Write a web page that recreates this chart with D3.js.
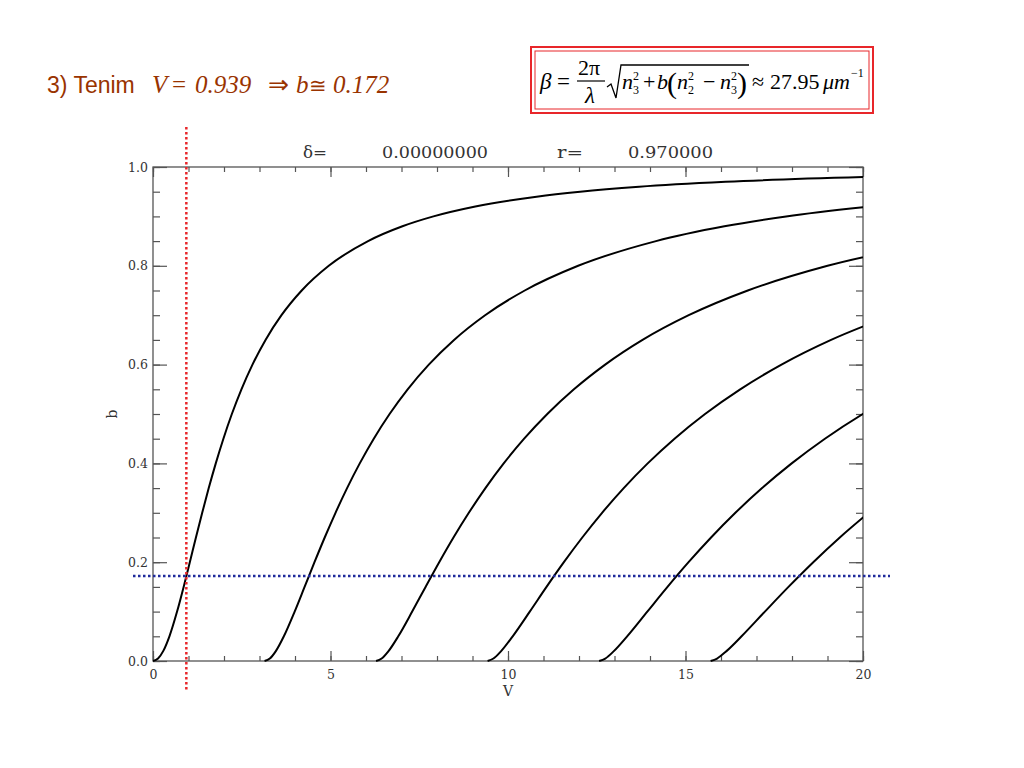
<!DOCTYPE html>
<html>
<head>
<meta charset="utf-8">
<script src="https://cdn.jsdelivr.net/npm/d3@7"></script>
<style>
  html, body { margin: 0; padding: 0; background: #fff; }
  svg { display: block; }
</style>
</head>
<body>
<svg id="chart" width="1024" height="768"></svg>
<script>
// ---- data ----
const bLevels = [0,0.005,0.02,0.05,0.1,0.15,0.2,0.25,0.3,0.35,0.4,0.45,0.5,0.55,0.6,0.65,0.7,0.75,0.8,0.85,0.88,0.9,0.92,0.94,0.95,0.96,0.97,0.98];
const mode0V = [0,0.142,0.287,0.463,0.678,0.863,1.037,1.209,1.386,1.570,1.768,1.983,2.221,2.491,2.802,3.170,3.619,4.189,4.951,6.058,7.027,7.900,9.080,10.805,12.032,13.694,16.128,20.208];
const mode1V = [3.142,3.291,3.460,3.686,3.990,4.270,4.549,4.837,5.141,5.467,5.824,6.219,6.664,7.174,7.769,8.480,9.355,10.472,11.976,14.169,16.096,17.834,20.187];
const mode2V = [6.283,6.441,6.634,6.909,7.301,7.678,8.062,8.464,8.896,9.364,9.879,10.455,11.107,11.857,12.737,13.790,15.091,16.755,19.001,22.281];
const mode3V = [9.425,9.590,9.807,10.132,10.613,11.085,11.574,12.092,12.650,13.260,13.935,14.691,15.550,16.541,17.704,19.101,20.826];
const mode4V = [12.566,12.740,12.981,13.356,13.924,14.493,15.086,15.720,16.405,17.157,17.991,18.927,19.993,21.224];
const mode5V = [15.708,15.889,16.154,16.579,17.236,17.901,18.599,19.347,20.160];
const modes = [mode0V, mode1V, mode2V, mode3V, mode4V, mode5V];

const xTicks = [0, 5, 10, 15, 20];
const xMinor = d3.range(0, 21, 1);
const yTicks = [0, 0.2, 0.4, 0.6, 0.8, 1.0];
const yMinor = d3.range(0, 1.0001, 0.05);
const vMark = 0.939;
const bMark = 0.172;
const headerLabels = ["\u03b4=", "0.00000000", "r=", "0.970000"];

// ---- layout ----
const svg = d3.select("#chart");
const L = 153, R = 863, T = 167, B = 661;
const x = d3.scaleLinear().domain([0, 20]).range([L, R]);
const y = d3.scaleLinear().domain([0, 1]).range([B, T]);
const axisColor = "#555";
const serif = "DejaVu Serif";
const times = "Liberation Serif";

// title
const title = svg.append("g").attr("fill", "#993300");
title.append("text").attr("x", 47).attr("y", 93).attr("font-size", 23)
  .attr("font-family", "Liberation Sans").text("3) Tenim");
const tt = [[152, "V", true, 25], [172, "=", false, 25], [195, "0.939", true, 25], [268, "\u21d2", false, 25], [296, "b", true, 25], [309, "\u2245", false, 21], [333, "0.172", true, 25]];
tt.forEach(([px, s, it, fs]) => title.append("text").attr("x", px).attr("y", 93)
  .attr("font-family", times).attr("font-style", it ? "italic" : "normal")
  .attr("font-size", fs).text(s));

// formula box
svg.append("rect").attr("x", 531).attr("y", 47).attr("width", 342).attr("height", 66)
  .attr("fill", "none").attr("stroke", "#e8262a").attr("stroke-width", 2);
svg.append("rect").attr("x", 535).attr("y", 51).attr("width", 334).attr("height", 58)
  .attr("fill", "none").attr("stroke", "#e8262a").attr("stroke-width", 1);
const fm = svg.append("g").attr("fill", "#000");
function ft(px, py, s, size, italic, anchor) {
  fm.append("text").attr("x", px).attr("y", py).attr("font-size", size)
    .attr("font-family", times)
    .attr("font-style", italic ? "italic" : "normal")
    .attr("text-anchor", anchor || "start").text(s);
}
ft(540, 89, "\u03b2", 23, true);
ft(557, 89, "=", 23, false);
ft(578, 75, "2\u03c0", 22, false);
fm.append("line").attr("x1", 577).attr("x2", 605).attr("y1", 81).attr("y2", 81).attr("stroke", "#000").attr("stroke-width", 1.2);
ft(585, 103, "\u03bb", 23, true);
fm.append("path").attr("d", "M607,87 L611,84 L616,98 L621,65 L749,65")
  .attr("fill", "none").attr("stroke", "#000").attr("stroke-width", 1.3);
function nTerm(px, sub) {
  ft(px, 89, "n", 22, true);
  ft(px + 11, 80, "2", 12, false);
  ft(px + 11, 94, sub, 12, false);
}
nTerm(622, "3");
ft(643, 89, "+", 22, false);
ft(657, 89, "b", 22, true);
ft(667, 93, "(", 30, false);
nTerm(677, "2");
ft(703, 89, "\u2212", 22, false);
nTerm(720, "3");
ft(737, 93, ")", 30, false);
ft(752, 89, "\u2248", 22, false);
ft(770, 89, "27.95", 22, false);
ft(823, 89, "\u03bcm", 22, true);
ft(851, 77, "\u22121", 12, false);

// header
const hdr = svg.append("g").attr("font-family", serif).attr("font-size", 16).attr("fill", "#333");
const hdrPos = [[303, 24], [382, 106], [557, 26], [628, 85]];
headerLabels.forEach((s, i) => hdr.append("text").attr("x", hdrPos[i][0]).attr("y", 158)
  .attr("textLength", hdrPos[i][1]).attr("lengthAdjust", "spacingAndGlyphs").text(s));

// axes
function styleAxis(g) {
  g.select(".domain").remove();
  g.selectAll("line").attr("stroke", axisColor).attr("stroke-width", 1.2);
  g.selectAll("text").attr("font-family", serif).attr("font-size", 12.5).attr("fill", "#333");
}
svg.append("g").attr("transform", `translate(0,${B})`)
  .call(d3.axisBottom(x).tickValues(xTicks).tickSize(-10).tickPadding(9).tickFormat(d3.format("d"))).call(styleAxis);
svg.append("g").attr("transform", `translate(0,${B})`)
  .call(d3.axisBottom(x).tickValues(xMinor).tickSize(-5).tickFormat("")).call(styleAxis);
svg.append("g").attr("transform", `translate(0,${T})`)
  .call(d3.axisTop(x).tickValues(xTicks).tickSize(-10).tickFormat("")).call(styleAxis);
svg.append("g").attr("transform", `translate(0,${T})`)
  .call(d3.axisTop(x).tickValues(xMinor).tickSize(-5).tickFormat("")).call(styleAxis);
svg.append("g").attr("transform", `translate(${L},0)`)
  .call(d3.axisLeft(y).tickValues(yTicks).tickSize(-14).tickPadding(5).tickFormat(d3.format(".1f"))).call(styleAxis);
svg.append("g").attr("transform", `translate(${L},0)`)
  .call(d3.axisLeft(y).tickValues(yMinor).tickSize(-7).tickFormat("")).call(styleAxis);
svg.append("g").attr("transform", `translate(${R},0)`)
  .call(d3.axisRight(y).tickValues(yTicks).tickSize(-14).tickFormat("")).call(styleAxis);
svg.append("g").attr("transform", `translate(${R},0)`)
  .call(d3.axisRight(y).tickValues(yMinor).tickSize(-7).tickFormat("")).call(styleAxis);

svg.append("rect").attr("x", L).attr("y", T).attr("width", R - L).attr("height", B - T)
  .attr("fill", "none").attr("stroke", axisColor).attr("stroke-width", 1.3);

svg.append("text").attr("x", x(10)).attr("y", 696).attr("text-anchor", "middle")
  .attr("font-family", serif).attr("font-size", 14).attr("fill", "#333").text("V");
svg.append("text").attr("transform", `translate(117,${y(0.5)}) rotate(-90)`).attr("text-anchor", "middle")
  .attr("font-family", serif).attr("font-size", 14).attr("fill", "#333").text("b");

// curves
svg.append("clipPath").attr("id", "plotclip").append("rect")
  .attr("x", L).attr("y", T - 2).attr("width", R - L).attr("height", B - T + 4);
const line = d3.line().x(d => x(d[0])).y(d => y(d[1])).curve(d3.curveMonotoneX);
const cg = svg.append("g").attr("clip-path", "url(#plotclip)");
modes.forEach(vs => {
  const pts = vs.map((v, i) => [v, bLevels[i]]);
  cg.append("path").attr("d", line(pts)).attr("fill", "none")
    .attr("stroke", "#000").attr("stroke-width", 2);
});

// markers
svg.append("line").attr("x1", x(vMark)).attr("x2", x(vMark)).attr("y1", 127).attr("y2", 692)
  .attr("stroke", "#e8262a").attr("stroke-width", 2.5).attr("stroke-dasharray", "2.5,2.5");
svg.append("line").attr("x1", 133).attr("x2", 890).attr("y1", y(bMark)).attr("y2", y(bMark))
  .attr("stroke", "#1f2a9c").attr("stroke-width", 2.5).attr("stroke-dasharray", "2.5,2.5");
</script>
</body>
</html>
